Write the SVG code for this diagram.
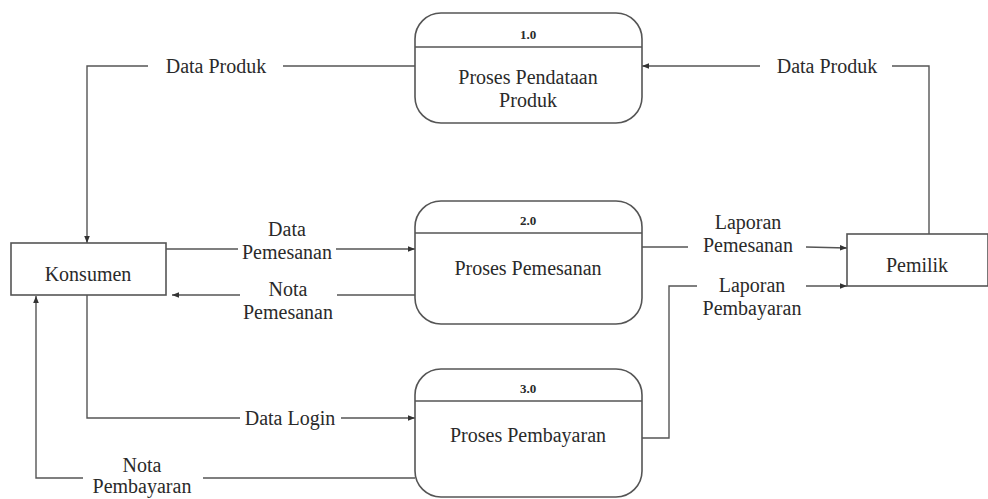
<svg xmlns="http://www.w3.org/2000/svg" width="988" height="499" viewBox="0 0 988 499">
<defs>
<style>
.box{fill:#fff;stroke:#555;stroke-width:1.6}
.ln{fill:none;stroke:#555;stroke-width:1.4}
.t{font-family:'Liberation Serif','DejaVu Serif','Times New Roman',Times,serif;font-size:20px;fill:#2a2a2a;text-anchor:middle}
.n{font-family:'Liberation Serif','DejaVu Serif','Times New Roman',Times,serif;font-size:13px;font-weight:bold;fill:#2a2a2a;text-anchor:middle}
</style>
<marker id="ar" viewBox="0 0 10 10" refX="10" refY="5" markerWidth="7" markerHeight="7" orient="auto" markerUnits="userSpaceOnUse">
<path d="M0,1 L10,5 L0,9 z" fill="#333"/>
</marker>
</defs>
<rect width="988" height="499" fill="#fff"/>

<g id="connectors">
<path class="ln" d="M415,66 H283 M148,66 H87 V243" marker-end="url(#ar)"/>
<text class="t" x="216" y="73">Data Produk</text>
<path class="ln" d="M929,234 V66 H892 M760,66 H642" marker-end="url(#ar)"/>
<text class="t" x="827" y="73">Data Produk</text>
<path class="ln" d="M166,249 H238 M336,249 H415" marker-end="url(#ar)"/>
<text class="t" x="287" y="236">Data</text>
<text class="t" x="287" y="259">Pemesanan</text>
<path class="ln" d="M415,295 H337 M240,295 H172" marker-end="url(#ar)"/>
<text class="t" x="288" y="296">Nota</text>
<text class="t" x="288" y="319">Pemesanan</text>
<path class="ln" d="M87,295 V418 H240 M341,418 H415" marker-end="url(#ar)"/>
<text class="t" x="290" y="425">Data Login</text>
<path class="ln" d="M415,478 H203 M83,478 H36 V296" marker-end="url(#ar)"/>
<text class="t" x="142" y="472">Nota</text>
<text class="t" x="142" y="493">Pembayaran</text>
<path class="ln" d="M642,247 H688 M806,247 L847,248" marker-end="url(#ar)"/>
<text class="t" x="748" y="229">Laporan</text>
<text class="t" x="748" y="252">Pemesanan</text>
<path class="ln" d="M642,438 H669 V286 H697 M806,286 H847" marker-end="url(#ar)"/>
<text class="t" x="752" y="292">Laporan</text>
<text class="t" x="752" y="315">Pembayaran</text>
</g>

<g id="p1">
<rect class="box" x="415" y="13" width="227" height="110" rx="26" ry="26"/>
<line class="ln" x1="415" y1="47" x2="642" y2="47"/>
<text class="n" x="528" y="39">1.0</text>
<text class="t" x="528" y="84">Proses Pendataan</text>
<text class="t" x="528" y="107">Produk</text>
</g>

<g id="p2">
<rect class="box" x="415" y="201" width="227" height="123" rx="26" ry="26"/>
<line class="ln" x1="415" y1="233" x2="642" y2="233"/>
<text class="n" x="528" y="225">2.0</text>
<text class="t" x="528" y="275">Proses Pemesanan</text>
</g>

<g id="p3">
<rect class="box" x="415" y="369" width="227" height="128" rx="26" ry="26"/>
<line class="ln" x1="415" y1="401" x2="642" y2="401"/>
<text class="n" x="528" y="393">3.0</text>
<text class="t" x="528" y="442">Proses Pembayaran</text>
</g>

<g id="konsumen">
<rect class="box" x="11" y="243" width="155" height="52"/>
<text class="t" x="88" y="281">Konsumen</text>
</g>

<g id="pemilik">
<rect class="box" x="847" y="234" width="141" height="52"/>
<text class="t" x="917" y="272">Pemilik</text>
</g>
</svg>
